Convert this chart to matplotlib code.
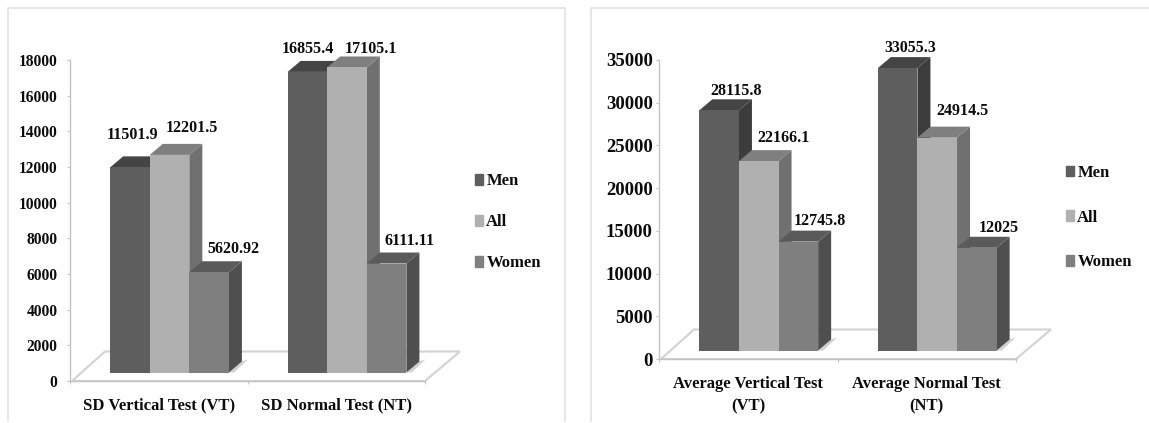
import matplotlib
matplotlib.use("Agg")
import matplotlib.pyplot as plt
from matplotlib.lines import Line2D
from matplotlib.patches import Patch

plt.rcParams['font.family'] = ['Liberation Serif', 'DejaVu Serif']
plt.rcParams['font.weight'] = 'bold'

W, H = 1149, 423
series = ["Men", "All", "Women"]

left_categories = ["SD Vertical Test (VT)", "SD Normal Test (NT)"]
left_men = [11501.9, 16855.4]
left_all = [12201.5, 17105.1]
left_women = [5620.92, 6111.11]
left_text = [["11501.9", "16855.4"], ["12201.5", "17105.1"], ["5620.92", "6111.11"]]
left_ticks = [0, 2000, 4000, 6000, 8000, 10000, 12000, 14000, 16000, 18000]

right_categories = ["Average Vertical Test\n(VT)", "Average Normal Test\n(NT)"]
right_men = [28115.8, 33055.3]
right_all = [22166.1, 24914.5]
right_women = [12745.8, 12025]
right_text = [["28115.8", "33055.3"], ["22166.1", "24914.5"], ["12745.8", "12025"]]
right_ticks = [0, 5000, 10000, 15000, 20000, 25000, 30000, 35000]

FRONT = ["#5e5e5e", "#b0b0b0", "#7f7f7f"]
TOP = ["#444444", "#7f7f7f", "#5a5a5a"]
SIDE = ["#3c3c3c", "#707070", "#4f4f4f"]
GRID = "#d2d2d2"
TXT = "#0c0c0c"

fig = plt.figure(figsize=(W / 100, H / 100), dpi=100, facecolor="white")


def px_line(xs, ys):
    fig.add_artist(Line2D([x / W for x in xs], [1 - y / H for y in ys],
                          color="#e2e2e2", lw=1.2, transform=fig.transFigure))


# panel frames
px_line([8, 8, 565, 565], [421, 8, 8, 421])
px_line([591, 591, W], [421, 8, 8])


def panel(box, ymax, cats, values, texts, ticks, label_off, tick_fs, tick_pad,
          legend_at, spacing, xlab_pad, linespacing):
    x0, x1, ytop, ybot = box
    ax = fig.add_axes([x0 / W, 1 - ybot / H, (x1 - x0) / W, (ybot - ytop) / H])
    ax.set_xlim(0, 2)
    ax.set_ylim(0, ymax)
    ax.patch.set_alpha(0)
    ux = 2 / (x1 - x0)           # data units per pixel
    uy = ymax / (ybot - ytop)

    # floor
    fdx, fdy = 35 * ux, 29.5 * uy
    ax.fill([2 * ux, 2, 2 + fdx, fdx], [0, 0, fdy, fdy], fc="white", ec=GRID,
            lw=1.5, clip_on=False, zorder=1)

    lift = 8.5 * uy
    width = 39.6 * ux
    dx, dy = 13 * ux, 11 * uy
    starts = [0.226, 1.226]

    for g, start in enumerate(starts):
        # shadow on the floor
        sx = start + 3 * width
        ax.fill([sx, sx + 5 * ux, sx + 19 * ux, sx + 13 * ux],
                [lift, lift, lift + 13 * uy, lift + 11 * uy],
                fc="#cfcfcf", ec="none", clip_on=False, zorder=2)
        for s, vals in enumerate(values):
            v = vals[g]
            l = start + s * width
            r = l + width
            t = lift + v
            z = 3 + s * 0.1
            ax.fill([r, r + dx, r + dx, r], [lift, lift + dy, t + dy, t],
                    fc=SIDE[s], ec="none", clip_on=False, zorder=z)
            ax.fill([l, r, r + dx, l + dx], [t, t, t + dy, t + dy],
                    fc=TOP[s], ec="none", clip_on=False, zorder=z)
            ax.bar(l, v, width=width, bottom=lift, align="edge", color=FRONT[s],
                   clip_on=False, zorder=z + 0.01)
            ox, oy = label_off[s][g]
            ax.annotate(texts[s][g], xy=(l + width / 2, t), xytext=(ox * 0.72, oy * 0.72),
                        textcoords="offset points", ha="center", va="center",
                        fontsize=11.5, color=TXT, annotation_clip=False, zorder=6)

    for side in ("top", "right"):
        ax.spines[side].set_visible(False)
    for side in ("left", "bottom"):
        ax.spines[side].set_color("#c4c4c4")
        ax.spines[side].set_linewidth(1.0)
        ax.spines[side].set_zorder(1.5)
    ax.set_yticks(ticks)
    ax.set_yticklabels([str(t) for t in ticks], fontsize=tick_fs, color=TXT)
    ax.tick_params(axis="y", length=2.5, width=0.8, color="#c4c4c4", pad=tick_pad)
    ax.set_xticks([0, 1, 2], minor=True)
    ax.tick_params(axis="x", which="minor", length=2.5, width=0.8, color="#c4c4c4")
    ax.set_xticks([0.5, 1.5])
    ax.set_xticklabels(cats, fontsize=12, color=TXT, linespacing=linespacing)
    ax.tick_params(axis="x", which="major", length=0, pad=xlab_pad)

    handles = [Patch(color=c, label=n) for c, n in zip(FRONT, series)]
    leg = ax.legend(handles=handles, loc="center left",
                    bbox_to_anchor=((legend_at[0] - x0) / (x1 - x0),
                                    (ybot - legend_at[1]) / (ybot - ytop)),
                    frameon=False, fontsize=12, handlelength=0.48, handleheight=0.62,
                    handletextpad=0.2, labelspacing=spacing, borderpad=0, borderaxespad=0)
    for t in leg.get_texts():
        t.set_color(TXT)
    return ax


left_off = [[(3, 32), (0, 23)], [(22, 27), (24, 18.5)], [(24, 23), (23, 23)]]
right_off = [[(16.5, 19), (13, 20.5)], [(25, 23), (25, 27)], [(21, 21), (21.5, 20)]]

panel((70, 425, 60, 381), 18000, left_categories, [left_men, left_all, left_women],
      left_text, left_ticks, left_off, 11.2, 6.5, (475, 222), 1.5, 12, 1.2)
panel((659, 1016, 60, 359), 35000, right_categories, [right_men, right_all, right_women],
      right_text, right_ticks, right_off, 13.5, 2, (1066, 217.5), 1.72, 12, 1.55)

fig.savefig("out.png", dpi=100, facecolor="white")
